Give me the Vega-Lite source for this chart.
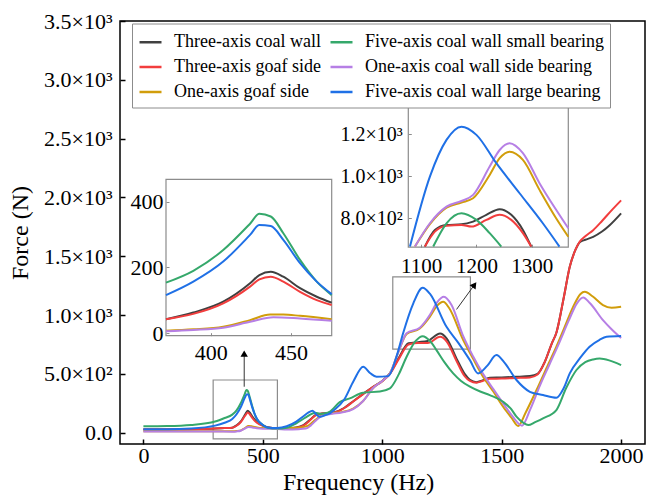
{
  "$schema": "https://vega.github.io/schema/vega-lite/v6.json",
  "width": 525,
  "height": 423,
  "autosize": {"type": "none"},
  "padding": {"left": 120, "top": 21, "right": 1, "bottom": 53},
  "config": {
    "view": {"stroke": "black", "strokeWidth": 1.5},
    "font": "Liberation Serif",
    "axis": {"grid": false, "labelFont": "Liberation Serif", "titleFont": "Liberation Serif", "labelColor": "black", "titleColor": "black", "titleFontWeight": "normal", "labelFontSize": 22, "tickColor": "black", "labelOverlap": false, "labelFlush": false}
  },
  "datasets": {
    "boxes": [{"x1": 292, "x2": 561, "y1": -53, "y2": 448}, {"x1": 1044, "x2": 1369, "y1": 711, "y2": 1325}],
    "arrows": [{"x1": 422, "x2": 422, "y1": 391, "y2": 672}, {"x1": 1311, "x2": 1386, "y1": 1048, "y2": 1258}],
    "frame1": [{"x1": 372.2, "x2": 475.3, "y1": -7.3, "y2": 468}],
    "frame2": [{"x1": 1077, "x2": 1366, "y1": 662, "y2": 1344}],
    "main": [
      {"s": "Three-axis coal wall", "f": 0, "F": 27}, {"s": "Three-axis coal wall", "f": 100, "F": 27}, {"s": "Three-axis coal wall", "f": 200, "F": 30}, {"s": "Three-axis coal wall", "f": 300, "F": 36}, {"s": "Three-axis coal wall", "f": 340, "F": 40}, {"s": "Three-axis coal wall", "f": 372, "F": 43}, {"s": "Three-axis coal wall", "f": 390, "F": 63}, {"s": "Three-axis coal wall", "f": 408, "F": 96}, {"s": "Three-axis coal wall", "f": 425, "F": 152}, {"s": "Three-axis coal wall", "f": 437, "F": 187}, {"s": "Three-axis coal wall", "f": 445, "F": 172}, {"s": "Three-axis coal wall", "f": 456, "F": 137}, {"s": "Three-axis coal wall", "f": 466, "F": 111}, {"s": "Three-axis coal wall", "f": 475, "F": 93}, {"s": "Three-axis coal wall", "f": 500, "F": 62}, {"s": "Three-axis coal wall", "f": 520, "F": 46}, {"s": "Three-axis coal wall", "f": 560, "F": 38}, {"s": "Three-axis coal wall", "f": 600, "F": 38}, {"s": "Three-axis coal wall", "f": 640, "F": 45}, {"s": "Three-axis coal wall", "f": 670, "F": 65}, {"s": "Three-axis coal wall", "f": 700, "F": 115}, {"s": "Three-axis coal wall", "f": 720, "F": 150}, {"s": "Three-axis coal wall", "f": 740, "F": 162}, {"s": "Three-axis coal wall", "f": 770, "F": 168}, {"s": "Three-axis coal wall", "f": 800, "F": 175}, {"s": "Three-axis coal wall", "f": 840, "F": 210}, {"s": "Three-axis coal wall", "f": 880, "F": 270}, {"s": "Three-axis coal wall", "f": 920, "F": 330}, {"s": "Three-axis coal wall", "f": 962, "F": 391}, {"s": "Three-axis coal wall", "f": 1000, "F": 440}, {"s": "Three-axis coal wall", "f": 1032, "F": 504}, {"s": "Three-axis coal wall", "f": 1070, "F": 640}, {"s": "Three-axis coal wall", "f": 1110, "F": 760}, {"s": "Three-axis coal wall", "f": 1150, "F": 770}, {"s": "Three-axis coal wall", "f": 1190, "F": 780}, {"s": "Three-axis coal wall", "f": 1242, "F": 843}, {"s": "Three-axis coal wall", "f": 1270, "F": 800}, {"s": "Three-axis coal wall", "f": 1311, "F": 630}, {"s": "Three-axis coal wall", "f": 1345, "F": 500}, {"s": "Three-axis coal wall", "f": 1367, "F": 450}, {"s": "Three-axis coal wall", "f": 1394, "F": 430}, {"s": "Three-axis coal wall", "f": 1420, "F": 445}, {"s": "Three-axis coal wall", "f": 1450, "F": 468}, {"s": "Three-axis coal wall", "f": 1500, "F": 470}, {"s": "Three-axis coal wall", "f": 1560, "F": 475}, {"s": "Three-axis coal wall", "f": 1618, "F": 482}, {"s": "Three-axis coal wall", "f": 1650, "F": 500}, {"s": "Three-axis coal wall", "f": 1680, "F": 600}, {"s": "Three-axis coal wall", "f": 1710, "F": 760}, {"s": "Three-axis coal wall", "f": 1729, "F": 850}, {"s": "Three-axis coal wall", "f": 1760, "F": 1150}, {"s": "Three-axis coal wall", "f": 1785, "F": 1410}, {"s": "Three-axis coal wall", "f": 1810, "F": 1560}, {"s": "Three-axis coal wall", "f": 1827, "F": 1620}, {"s": "Three-axis coal wall", "f": 1850, "F": 1640}, {"s": "Three-axis coal wall", "f": 1883, "F": 1665}, {"s": "Three-axis coal wall", "f": 1920, "F": 1710}, {"s": "Three-axis coal wall", "f": 1952, "F": 1764}, {"s": "Three-axis coal wall", "f": 2000, "F": 1865},

      {"s": "Three-axis goaf side", "f": 0, "F": 29}, {"s": "Three-axis goaf side", "f": 100, "F": 29}, {"s": "Three-axis goaf side", "f": 200, "F": 30}, {"s": "Three-axis goaf side", "f": 300, "F": 35}, {"s": "Three-axis goaf side", "f": 340, "F": 39}, {"s": "Three-axis goaf side", "f": 372, "F": 43}, {"s": "Three-axis goaf side", "f": 390, "F": 59}, {"s": "Three-axis goaf side", "f": 408, "F": 91}, {"s": "Three-axis goaf side", "f": 425, "F": 142}, {"s": "Three-axis goaf side", "f": 437, "F": 172}, {"s": "Three-axis goaf side", "f": 445, "F": 157}, {"s": "Three-axis goaf side", "f": 456, "F": 126}, {"s": "Three-axis goaf side", "f": 466, "F": 101}, {"s": "Three-axis goaf side", "f": 475, "F": 86}, {"s": "Three-axis goaf side", "f": 500, "F": 58}, {"s": "Three-axis goaf side", "f": 520, "F": 44}, {"s": "Three-axis goaf side", "f": 560, "F": 37}, {"s": "Three-axis goaf side", "f": 600, "F": 37}, {"s": "Three-axis goaf side", "f": 640, "F": 42}, {"s": "Three-axis goaf side", "f": 670, "F": 60}, {"s": "Three-axis goaf side", "f": 700, "F": 110}, {"s": "Three-axis goaf side", "f": 720, "F": 148}, {"s": "Three-axis goaf side", "f": 740, "F": 160}, {"s": "Three-axis goaf side", "f": 770, "F": 166}, {"s": "Three-axis goaf side", "f": 800, "F": 172}, {"s": "Three-axis goaf side", "f": 840, "F": 208}, {"s": "Three-axis goaf side", "f": 880, "F": 268}, {"s": "Three-axis goaf side", "f": 920, "F": 328}, {"s": "Three-axis goaf side", "f": 962, "F": 390}, {"s": "Three-axis goaf side", "f": 1000, "F": 438}, {"s": "Three-axis goaf side", "f": 1032, "F": 500}, {"s": "Three-axis goaf side", "f": 1070, "F": 630}, {"s": "Three-axis goaf side", "f": 1110, "F": 750}, {"s": "Three-axis goaf side", "f": 1150, "F": 762}, {"s": "Three-axis goaf side", "f": 1190, "F": 762}, {"s": "Three-axis goaf side", "f": 1242, "F": 815}, {"s": "Three-axis goaf side", "f": 1270, "F": 775}, {"s": "Three-axis goaf side", "f": 1311, "F": 610}, {"s": "Three-axis goaf side", "f": 1345, "F": 480}, {"s": "Three-axis goaf side", "f": 1367, "F": 440}, {"s": "Three-axis goaf side", "f": 1394, "F": 425}, {"s": "Three-axis goaf side", "f": 1420, "F": 440}, {"s": "Three-axis goaf side", "f": 1450, "F": 458}, {"s": "Three-axis goaf side", "f": 1500, "F": 460}, {"s": "Three-axis goaf side", "f": 1560, "F": 465}, {"s": "Three-axis goaf side", "f": 1618, "F": 470}, {"s": "Three-axis goaf side", "f": 1650, "F": 495}, {"s": "Three-axis goaf side", "f": 1680, "F": 600}, {"s": "Three-axis goaf side", "f": 1710, "F": 760}, {"s": "Three-axis goaf side", "f": 1729, "F": 850}, {"s": "Three-axis goaf side", "f": 1760, "F": 1150}, {"s": "Three-axis goaf side", "f": 1785, "F": 1410}, {"s": "Three-axis goaf side", "f": 1810, "F": 1560}, {"s": "Three-axis goaf side", "f": 1827, "F": 1625}, {"s": "Three-axis goaf side", "f": 1850, "F": 1670}, {"s": "Three-axis goaf side", "f": 1883, "F": 1722}, {"s": "Three-axis goaf side", "f": 1920, "F": 1800}, {"s": "Three-axis goaf side", "f": 1960, "F": 1890}, {"s": "Three-axis goaf side", "f": 2000, "F": 1975},

      {"s": "One-axis goaf side", "f": 0, "F": 12}, {"s": "One-axis goaf side", "f": 100, "F": 12}, {"s": "One-axis goaf side", "f": 200, "F": 12}, {"s": "One-axis goaf side", "f": 300, "F": 12}, {"s": "One-axis goaf side", "f": 372, "F": 12}, {"s": "One-axis goaf side", "f": 390, "F": 14}, {"s": "One-axis goaf side", "f": 408, "F": 20}, {"s": "One-axis goaf side", "f": 425, "F": 40}, {"s": "One-axis goaf side", "f": 440, "F": 57}, {"s": "One-axis goaf side", "f": 456, "F": 53}, {"s": "One-axis goaf side", "f": 475, "F": 45}, {"s": "One-axis goaf side", "f": 500, "F": 40}, {"s": "One-axis goaf side", "f": 560, "F": 38}, {"s": "One-axis goaf side", "f": 620, "F": 40}, {"s": "One-axis goaf side", "f": 660, "F": 45}, {"s": "One-axis goaf side", "f": 690, "F": 60}, {"s": "One-axis goaf side", "f": 720, "F": 110}, {"s": "One-axis goaf side", "f": 750, "F": 150}, {"s": "One-axis goaf side", "f": 790, "F": 165}, {"s": "One-axis goaf side", "f": 830, "F": 175}, {"s": "One-axis goaf side", "f": 878, "F": 204}, {"s": "One-axis goaf side", "f": 920, "F": 270}, {"s": "One-axis goaf side", "f": 962, "F": 380}, {"s": "One-axis goaf side", "f": 1000, "F": 440}, {"s": "One-axis goaf side", "f": 1032, "F": 504}, {"s": "One-axis goaf side", "f": 1070, "F": 700}, {"s": "One-axis goaf side", "f": 1102, "F": 840}, {"s": "One-axis goaf side", "f": 1157, "F": 886}, {"s": "One-axis goaf side", "f": 1199, "F": 985}, {"s": "One-axis goaf side", "f": 1230, "F": 1080}, {"s": "One-axis goaf side", "f": 1255, "F": 1113}, {"s": "One-axis goaf side", "f": 1280, "F": 1060}, {"s": "One-axis goaf side", "f": 1339, "F": 787}, {"s": "One-axis goaf side", "f": 1380, "F": 630}, {"s": "One-axis goaf side", "f": 1422, "F": 476}, {"s": "One-axis goaf side", "f": 1465, "F": 350}, {"s": "One-axis goaf side", "f": 1506, "F": 221}, {"s": "One-axis goaf side", "f": 1540, "F": 130}, {"s": "One-axis goaf side", "f": 1569, "F": 57}, {"s": "One-axis goaf side", "f": 1600, "F": 170}, {"s": "One-axis goaf side", "f": 1646, "F": 363}, {"s": "One-axis goaf side", "f": 1690, "F": 560}, {"s": "One-axis goaf side", "f": 1729, "F": 731}, {"s": "One-axis goaf side", "f": 1760, "F": 880}, {"s": "One-axis goaf side", "f": 1799, "F": 1070}, {"s": "One-axis goaf side", "f": 1830, "F": 1180}, {"s": "One-axis goaf side", "f": 1848, "F": 1198}, {"s": "One-axis goaf side", "f": 1880, "F": 1160}, {"s": "One-axis goaf side", "f": 1924, "F": 1085}, {"s": "One-axis goaf side", "f": 1960, "F": 1062}, {"s": "One-axis goaf side", "f": 2000, "F": 1070},

      {"s": "One-axis coal wall side bearing", "f": 0, "F": 10}, {"s": "One-axis coal wall side bearing", "f": 100, "F": 10}, {"s": "One-axis coal wall side bearing", "f": 200, "F": 10}, {"s": "One-axis coal wall side bearing", "f": 300, "F": 10}, {"s": "One-axis coal wall side bearing", "f": 372, "F": 9}, {"s": "One-axis coal wall side bearing", "f": 390, "F": 11}, {"s": "One-axis coal wall side bearing", "f": 408, "F": 17}, {"s": "One-axis coal wall side bearing", "f": 425, "F": 35}, {"s": "One-axis coal wall side bearing", "f": 440, "F": 49}, {"s": "One-axis coal wall side bearing", "f": 456, "F": 45}, {"s": "One-axis coal wall side bearing", "f": 475, "F": 38}, {"s": "One-axis coal wall side bearing", "f": 500, "F": 34}, {"s": "One-axis coal wall side bearing", "f": 560, "F": 32}, {"s": "One-axis coal wall side bearing", "f": 600, "F": 28}, {"s": "One-axis coal wall side bearing", "f": 650, "F": 30}, {"s": "One-axis coal wall side bearing", "f": 680, "F": 35}, {"s": "One-axis coal wall side bearing", "f": 700, "F": 60}, {"s": "One-axis coal wall side bearing", "f": 720, "F": 100}, {"s": "One-axis coal wall side bearing", "f": 750, "F": 145}, {"s": "One-axis coal wall side bearing", "f": 790, "F": 160}, {"s": "One-axis coal wall side bearing", "f": 830, "F": 172}, {"s": "One-axis coal wall side bearing", "f": 878, "F": 200}, {"s": "One-axis coal wall side bearing", "f": 920, "F": 270}, {"s": "One-axis coal wall side bearing", "f": 962, "F": 380}, {"s": "One-axis coal wall side bearing", "f": 1000, "F": 440}, {"s": "One-axis coal wall side bearing", "f": 1032, "F": 504}, {"s": "One-axis coal wall side bearing", "f": 1070, "F": 700}, {"s": "One-axis coal wall side bearing", "f": 1102, "F": 845}, {"s": "One-axis coal wall side bearing", "f": 1157, "F": 892}, {"s": "One-axis coal wall side bearing", "f": 1199, "F": 1000}, {"s": "One-axis coal wall side bearing", "f": 1230, "F": 1110}, {"s": "One-axis coal wall side bearing", "f": 1258, "F": 1155}, {"s": "One-axis coal wall side bearing", "f": 1290, "F": 1085}, {"s": "One-axis coal wall side bearing", "f": 1339, "F": 820}, {"s": "One-axis coal wall side bearing", "f": 1380, "F": 650}, {"s": "One-axis coal wall side bearing", "f": 1422, "F": 500}, {"s": "One-axis coal wall side bearing", "f": 1465, "F": 370}, {"s": "One-axis coal wall side bearing", "f": 1506, "F": 250}, {"s": "One-axis coal wall side bearing", "f": 1545, "F": 140}, {"s": "One-axis coal wall side bearing", "f": 1585, "F": 60}, {"s": "One-axis coal wall side bearing", "f": 1620, "F": 200}, {"s": "One-axis coal wall side bearing", "f": 1660, "F": 400}, {"s": "One-axis coal wall side bearing", "f": 1700, "F": 580}, {"s": "One-axis coal wall side bearing", "f": 1740, "F": 760}, {"s": "One-axis coal wall side bearing", "f": 1780, "F": 950}, {"s": "One-axis coal wall side bearing", "f": 1815, "F": 1100}, {"s": "One-axis coal wall side bearing", "f": 1841, "F": 1150}, {"s": "One-axis coal wall side bearing", "f": 1870, "F": 1100}, {"s": "One-axis coal wall side bearing", "f": 1924, "F": 957}, {"s": "One-axis coal wall side bearing", "f": 1960, "F": 880}, {"s": "One-axis coal wall side bearing", "f": 2000, "F": 805},

      {"s": "Five-axis coal wall small bearing", "f": 0, "F": 55}, {"s": "Five-axis coal wall small bearing", "f": 100, "F": 57}, {"s": "Five-axis coal wall small bearing", "f": 200, "F": 66}, {"s": "Five-axis coal wall small bearing", "f": 300, "F": 95}, {"s": "Five-axis coal wall small bearing", "f": 340, "F": 125}, {"s": "Five-axis coal wall small bearing", "f": 372, "F": 154}, {"s": "Five-axis coal wall small bearing", "f": 390, "F": 190}, {"s": "Five-axis coal wall small bearing", "f": 408, "F": 253}, {"s": "Five-axis coal wall small bearing", "f": 425, "F": 333}, {"s": "Five-axis coal wall small bearing", "f": 431, "F": 363}, {"s": "Five-axis coal wall small bearing", "f": 437, "F": 355}, {"s": "Five-axis coal wall small bearing", "f": 445, "F": 304}, {"s": "Five-axis coal wall small bearing", "f": 456, "F": 223}, {"s": "Five-axis coal wall small bearing", "f": 466, "F": 157}, {"s": "Five-axis coal wall small bearing", "f": 475, "F": 116}, {"s": "Five-axis coal wall small bearing", "f": 500, "F": 65}, {"s": "Five-axis coal wall small bearing", "f": 520, "F": 42}, {"s": "Five-axis coal wall small bearing", "f": 560, "F": 35}, {"s": "Five-axis coal wall small bearing", "f": 600, "F": 42}, {"s": "Five-axis coal wall small bearing", "f": 640, "F": 80}, {"s": "Five-axis coal wall small bearing", "f": 680, "F": 130}, {"s": "Five-axis coal wall small bearing", "f": 720, "F": 170}, {"s": "Five-axis coal wall small bearing", "f": 740, "F": 160}, {"s": "Five-axis coal wall small bearing", "f": 760, "F": 165}, {"s": "Five-axis coal wall small bearing", "f": 781, "F": 180}, {"s": "Five-axis coal wall small bearing", "f": 822, "F": 260}, {"s": "Five-axis coal wall small bearing", "f": 864, "F": 292}, {"s": "Five-axis coal wall small bearing", "f": 920, "F": 340}, {"s": "Five-axis coal wall small bearing", "f": 990, "F": 350}, {"s": "Five-axis coal wall small bearing", "f": 1032, "F": 377}, {"s": "Five-axis coal wall small bearing", "f": 1070, "F": 500}, {"s": "Five-axis coal wall small bearing", "f": 1102, "F": 646}, {"s": "Five-axis coal wall small bearing", "f": 1140, "F": 780}, {"s": "Five-axis coal wall small bearing", "f": 1169, "F": 821}, {"s": "Five-axis coal wall small bearing", "f": 1200, "F": 780}, {"s": "Five-axis coal wall small bearing", "f": 1227, "F": 702}, {"s": "Five-axis coal wall small bearing", "f": 1260, "F": 600}, {"s": "Five-axis coal wall small bearing", "f": 1297, "F": 504}, {"s": "Five-axis coal wall small bearing", "f": 1330, "F": 440}, {"s": "Five-axis coal wall small bearing", "f": 1367, "F": 391}, {"s": "Five-axis coal wall small bearing", "f": 1410, "F": 350}, {"s": "Five-axis coal wall small bearing", "f": 1450, "F": 320}, {"s": "Five-axis coal wall small bearing", "f": 1506, "F": 263}, {"s": "Five-axis coal wall small bearing", "f": 1540, "F": 200}, {"s": "Five-axis coal wall small bearing", "f": 1562, "F": 136}, {"s": "Five-axis coal wall small bearing", "f": 1590, "F": 85}, {"s": "Five-axis coal wall small bearing", "f": 1611, "F": 65}, {"s": "Five-axis coal wall small bearing", "f": 1640, "F": 90}, {"s": "Five-axis coal wall small bearing", "f": 1673, "F": 122}, {"s": "Five-axis coal wall small bearing", "f": 1729, "F": 193}, {"s": "Five-axis coal wall small bearing", "f": 1770, "F": 380}, {"s": "Five-axis coal wall small bearing", "f": 1813, "F": 533}, {"s": "Five-axis coal wall small bearing", "f": 1850, "F": 600}, {"s": "Five-axis coal wall small bearing", "f": 1883, "F": 623}, {"s": "Five-axis coal wall small bearing", "f": 1910, "F": 630}, {"s": "Five-axis coal wall small bearing", "f": 1950, "F": 615}, {"s": "Five-axis coal wall small bearing", "f": 2000, "F": 575},

      {"s": "Five-axis coal wall large bearing", "f": 0, "F": 30}, {"s": "Five-axis coal wall large bearing", "f": 100, "F": 30}, {"s": "Five-axis coal wall large bearing", "f": 200, "F": 36}, {"s": "Five-axis coal wall large bearing", "f": 300, "F": 60}, {"s": "Five-axis coal wall large bearing", "f": 340, "F": 85}, {"s": "Five-axis coal wall large bearing", "f": 372, "F": 116}, {"s": "Five-axis coal wall large bearing", "f": 390, "F": 157}, {"s": "Five-axis coal wall large bearing", "f": 408, "F": 218}, {"s": "Five-axis coal wall large bearing", "f": 425, "F": 299}, {"s": "Five-axis coal wall large bearing", "f": 433, "F": 328}, {"s": "Five-axis coal wall large bearing", "f": 440, "F": 322}, {"s": "Five-axis coal wall large bearing", "f": 445, "F": 290}, {"s": "Five-axis coal wall large bearing", "f": 456, "F": 213}, {"s": "Five-axis coal wall large bearing", "f": 466, "F": 157}, {"s": "Five-axis coal wall large bearing", "f": 475, "F": 119}, {"s": "Five-axis coal wall large bearing", "f": 500, "F": 65}, {"s": "Five-axis coal wall large bearing", "f": 520, "F": 45}, {"s": "Five-axis coal wall large bearing", "f": 560, "F": 40}, {"s": "Five-axis coal wall large bearing", "f": 600, "F": 55}, {"s": "Five-axis coal wall large bearing", "f": 640, "F": 95}, {"s": "Five-axis coal wall large bearing", "f": 670, "F": 140}, {"s": "Five-axis coal wall large bearing", "f": 690, "F": 170}, {"s": "Five-axis coal wall large bearing", "f": 708, "F": 187}, {"s": "Five-axis coal wall large bearing", "f": 725, "F": 152}, {"s": "Five-axis coal wall large bearing", "f": 740, "F": 135}, {"s": "Five-axis coal wall large bearing", "f": 760, "F": 148}, {"s": "Five-axis coal wall large bearing", "f": 781, "F": 165}, {"s": "Five-axis coal wall large bearing", "f": 800, "F": 195}, {"s": "Five-axis coal wall large bearing", "f": 840, "F": 280}, {"s": "Five-axis coal wall large bearing", "f": 880, "F": 440}, {"s": "Five-axis coal wall large bearing", "f": 920, "F": 561}, {"s": "Five-axis coal wall large bearing", "f": 950, "F": 505}, {"s": "Five-axis coal wall large bearing", "f": 976, "F": 476}, {"s": "Five-axis coal wall large bearing", "f": 1025, "F": 481}, {"s": "Five-axis coal wall large bearing", "f": 1060, "F": 650}, {"s": "Five-axis coal wall large bearing", "f": 1087, "F": 844}, {"s": "Five-axis coal wall large bearing", "f": 1130, "F": 1100}, {"s": "Five-axis coal wall large bearing", "f": 1169, "F": 1232}, {"s": "Five-axis coal wall large bearing", "f": 1200, "F": 1180}, {"s": "Five-axis coal wall large bearing", "f": 1269, "F": 900}, {"s": "Five-axis coal wall large bearing", "f": 1320, "F": 760}, {"s": "Five-axis coal wall large bearing", "f": 1367, "F": 617}, {"s": "Five-axis coal wall large bearing", "f": 1401, "F": 504}, {"s": "Five-axis coal wall large bearing", "f": 1440, "F": 570}, {"s": "Five-axis coal wall large bearing", "f": 1478, "F": 660}, {"s": "Five-axis coal wall large bearing", "f": 1510, "F": 600}, {"s": "Five-axis coal wall large bearing", "f": 1562, "F": 448}, {"s": "Five-axis coal wall large bearing", "f": 1618, "F": 348}, {"s": "Five-axis coal wall large bearing", "f": 1673, "F": 320}, {"s": "Five-axis coal wall large bearing", "f": 1729, "F": 297}, {"s": "Five-axis coal wall large bearing", "f": 1760, "F": 380}, {"s": "Five-axis coal wall large bearing", "f": 1785, "F": 504}, {"s": "Five-axis coal wall large bearing", "f": 1830, "F": 640}, {"s": "Five-axis coal wall large bearing", "f": 1868, "F": 731}, {"s": "Five-axis coal wall large bearing", "f": 1910, "F": 790}, {"s": "Five-axis coal wall large bearing", "f": 1939, "F": 815}, {"s": "Five-axis coal wall large bearing", "f": 2000, "F": 822}
    ],
    "inset1": [
      {"s": "Three-axis coal wall", "f": 372.2, "F": 43}, {"s": "Three-axis coal wall", "f": 389.2, "F": 63}, {"s": "Three-axis coal wall", "f": 407.8, "F": 96}, {"s": "Three-axis coal wall", "f": 424.5, "F": 152}, {"s": "Three-axis coal wall", "f": 430.3, "F": 177}, {"s": "Three-axis coal wall", "f": 437.4, "F": 187}, {"s": "Three-axis coal wall", "f": 445.2, "F": 172}, {"s": "Three-axis coal wall", "f": 455.6, "F": 137}, {"s": "Three-axis coal wall", "f": 466, "F": 111}, {"s": "Three-axis coal wall", "f": 475.3, "F": 93},
      {"s": "Three-axis goaf side", "f": 372.2, "F": 43}, {"s": "Three-axis goaf side", "f": 389.2, "F": 59}, {"s": "Three-axis goaf side", "f": 407.8, "F": 91}, {"s": "Three-axis goaf side", "f": 424.5, "F": 142}, {"s": "Three-axis goaf side", "f": 430.3, "F": 164}, {"s": "Three-axis goaf side", "f": 437.4, "F": 172}, {"s": "Three-axis goaf side", "f": 445.2, "F": 157}, {"s": "Three-axis goaf side", "f": 455.6, "F": 126}, {"s": "Three-axis goaf side", "f": 466, "F": 101}, {"s": "Three-axis goaf side", "f": 475.3, "F": 86},
      {"s": "One-axis goaf side", "f": 372.2, "F": 8}, {"s": "One-axis goaf side", "f": 389.2, "F": 12}, {"s": "One-axis goaf side", "f": 407.8, "F": 20}, {"s": "One-axis goaf side", "f": 424.5, "F": 40}, {"s": "One-axis goaf side", "f": 437, "F": 57}, {"s": "One-axis goaf side", "f": 445.2, "F": 57}, {"s": "One-axis goaf side", "f": 455.6, "F": 53}, {"s": "One-axis goaf side", "f": 475.3, "F": 43},
      {"s": "One-axis coal wall side bearing", "f": 372.2, "F": 6}, {"s": "One-axis coal wall side bearing", "f": 389.2, "F": 10}, {"s": "One-axis coal wall side bearing", "f": 407.8, "F": 17}, {"s": "One-axis coal wall side bearing", "f": 424.5, "F": 35}, {"s": "One-axis coal wall side bearing", "f": 439, "F": 49}, {"s": "One-axis coal wall side bearing", "f": 455.6, "F": 45}, {"s": "One-axis coal wall side bearing", "f": 475.3, "F": 38},
      {"s": "Five-axis coal wall small bearing", "f": 372.2, "F": 154}, {"s": "Five-axis coal wall small bearing", "f": 389.2, "F": 190}, {"s": "Five-axis coal wall small bearing", "f": 407.8, "F": 253}, {"s": "Five-axis coal wall small bearing", "f": 424.5, "F": 333}, {"s": "Five-axis coal wall small bearing", "f": 430.3, "F": 363}, {"s": "Five-axis coal wall small bearing", "f": 437.4, "F": 355}, {"s": "Five-axis coal wall small bearing", "f": 445.2, "F": 304}, {"s": "Five-axis coal wall small bearing", "f": 455.6, "F": 223}, {"s": "Five-axis coal wall small bearing", "f": 466, "F": 157}, {"s": "Five-axis coal wall small bearing", "f": 475.3, "F": 116},
      {"s": "Five-axis coal wall large bearing", "f": 372.2, "F": 116}, {"s": "Five-axis coal wall large bearing", "f": 389.2, "F": 157}, {"s": "Five-axis coal wall large bearing", "f": 407.8, "F": 218}, {"s": "Five-axis coal wall large bearing", "f": 424.5, "F": 299}, {"s": "Five-axis coal wall large bearing", "f": 430.3, "F": 329}, {"s": "Five-axis coal wall large bearing", "f": 437.4, "F": 326}, {"s": "Five-axis coal wall large bearing", "f": 445.2, "F": 284}, {"s": "Five-axis coal wall large bearing", "f": 455.6, "F": 213}, {"s": "Five-axis coal wall large bearing", "f": 466, "F": 157}, {"s": "Five-axis coal wall large bearing", "f": 475.3, "F": 119}
    ],
    "inset2": [
      {"s": "Three-axis coal wall", "f": 1107, "F": 665}, {"s": "Three-axis coal wall", "f": 1125, "F": 744}, {"s": "Three-axis coal wall", "f": 1146, "F": 768}, {"s": "Three-axis coal wall", "f": 1173, "F": 771}, {"s": "Three-axis coal wall", "f": 1194, "F": 784}, {"s": "Three-axis coal wall", "f": 1218, "F": 816}, {"s": "Three-axis coal wall", "f": 1242, "F": 843}, {"s": "Three-axis coal wall", "f": 1263, "F": 816}, {"s": "Three-axis coal wall", "f": 1284, "F": 744}, {"s": "Three-axis coal wall", "f": 1299, "F": 665},
      {"s": "Three-axis goaf side", "f": 1107, "F": 665}, {"s": "Three-axis goaf side", "f": 1125, "F": 736}, {"s": "Three-axis goaf side", "f": 1146, "F": 764}, {"s": "Three-axis goaf side", "f": 1173, "F": 768}, {"s": "Three-axis goaf side", "f": 1191, "F": 760}, {"s": "Three-axis goaf side", "f": 1218, "F": 792}, {"s": "Three-axis goaf side", "f": 1242, "F": 816}, {"s": "Three-axis goaf side", "f": 1263, "F": 792}, {"s": "Three-axis goaf side", "f": 1284, "F": 729}, {"s": "Three-axis goaf side", "f": 1299, "F": 665},
      {"s": "One-axis goaf side", "f": 1089, "F": 665}, {"s": "One-axis goaf side", "f": 1116, "F": 772}, {"s": "One-axis goaf side", "f": 1146, "F": 850}, {"s": "One-axis goaf side", "f": 1173, "F": 875}, {"s": "One-axis goaf side", "f": 1194, "F": 895}, {"s": "One-axis goaf side", "f": 1224, "F": 1006}, {"s": "One-axis goaf side", "f": 1242, "F": 1086}, {"s": "One-axis goaf side", "f": 1260, "F": 1117}, {"s": "One-axis goaf side", "f": 1284, "F": 1078}, {"s": "One-axis goaf side", "f": 1314, "F": 935}, {"s": "One-axis goaf side", "f": 1344, "F": 800}, {"s": "One-axis goaf side", "f": 1366, "F": 712},
      {"s": "One-axis coal wall side bearing", "f": 1089, "F": 665}, {"s": "One-axis coal wall side bearing", "f": 1116, "F": 776}, {"s": "One-axis coal wall side bearing", "f": 1146, "F": 855}, {"s": "One-axis coal wall side bearing", "f": 1173, "F": 882}, {"s": "One-axis coal wall side bearing", "f": 1194, "F": 911}, {"s": "One-axis coal wall side bearing", "f": 1224, "F": 1046}, {"s": "One-axis coal wall side bearing", "f": 1242, "F": 1125}, {"s": "One-axis coal wall side bearing", "f": 1260, "F": 1157}, {"s": "One-axis coal wall side bearing", "f": 1284, "F": 1110}, {"s": "One-axis coal wall side bearing", "f": 1314, "F": 967}, {"s": "One-axis coal wall side bearing", "f": 1344, "F": 840}, {"s": "One-axis coal wall side bearing", "f": 1366, "F": 752},
      {"s": "Five-axis coal wall small bearing", "f": 1122, "F": 665}, {"s": "Five-axis coal wall small bearing", "f": 1146, "F": 776}, {"s": "Five-axis coal wall small bearing", "f": 1173, "F": 824}, {"s": "Five-axis coal wall small bearing", "f": 1200, "F": 792}, {"s": "Five-axis coal wall small bearing", "f": 1224, "F": 729}, {"s": "Five-axis coal wall small bearing", "f": 1245, "F": 665},
      {"s": "Five-axis coal wall large bearing", "f": 1080, "F": 665}, {"s": "Five-axis coal wall large bearing", "f": 1116, "F": 998}, {"s": "Five-axis coal wall large bearing", "f": 1146, "F": 1173}, {"s": "Five-axis coal wall large bearing", "f": 1173, "F": 1236}, {"s": "Five-axis coal wall large bearing", "f": 1200, "F": 1197}, {"s": "Five-axis coal wall large bearing", "f": 1236, "F": 1062}, {"s": "Five-axis coal wall large bearing", "f": 1278, "F": 919}, {"s": "Five-axis coal wall large bearing", "f": 1320, "F": 776}, {"s": "Five-axis coal wall large bearing", "f": 1350, "F": 665}
    ]
  },
  "layer": [
    {
      "layer": [
        {
          "data": {"name": "boxes"},
          "mark": {"type": "rect", "fill": null, "fillOpacity": 0, "stroke": "#8c8c8c", "strokeWidth": 1.2},
          "encoding": {
            "x": {"field": "x1", "type": "quantitative"},
            "x2": {"field": "x2"},
            "y": {"field": "y1", "type": "quantitative"},
            "y2": {"field": "y2"}
          }
        },
        {
          "data": {"name": "arrows"},
          "mark": {"type": "rule", "color": "#333333", "strokeWidth": 1},
          "encoding": {
            "x": {"field": "x1", "type": "quantitative"},
            "x2": {"field": "x2"},
            "y": {"field": "y1", "type": "quantitative"},
            "y2": {"field": "y2"}
          }
        },
        {
          "data": {"values": [{"hx": 422, "hy": 672}]},
          "mark": {"type": "point", "shape": "triangle-up", "filled": true, "color": "black", "opacity": 1, "size": 55},
          "encoding": {
            "x": {"field": "hx", "type": "quantitative"},
            "y": {"field": "hy", "type": "quantitative"}
          }
        },
        {
          "data": {"values": [{"hx": 1386, "hy": 1258}]},
          "mark": {"type": "point", "shape": "triangle-up", "filled": true, "color": "black", "opacity": 1, "size": 55, "angle": 36},
          "encoding": {
            "x": {"field": "hx", "type": "quantitative"},
            "y": {"field": "hy", "type": "quantitative"}
          }
        },
        {
          "data": {"name": "main"},
          "mark": {"type": "line", "interpolate": "monotone", "strokeWidth": 2},
          "encoding": {
            "x": {"field": "f", "type": "quantitative",
              "scale": {"domain": [-98, 2100], "nice": false, "zero": false},
              "axis": {"title": "Frequency (Hz)", "orient": "bottom", "values": [0, 500, 1000, 1500, 2000], "format": "d", "domain": false, "tickSize": -5, "tickWidth": 1.5, "labelPadding": 6, "labelFontSize": 22, "titleFontSize": 24, "titleX": 238, "titleY": 45, "titleBaseline": "alphabetic"}},
            "y": {"field": "F", "type": "quantitative",
              "scale": {"domain": [-96, 3500], "nice": false, "zero": false},
              "axis": {"title": "Force (N)", "orient": "left", "values": [0, 500, 1000, 1500, 2000, 2500, 3000, 3500], "domain": false, "tickSize": -5, "tickWidth": 1.5, "labelPadding": 13, "labelFontSize": 22, "titleFontSize": 24, "titleX": -93, "titleY": 211.5, "titleAngle": -90, "titleAlign": "center", "titleBaseline": "alphabetic",
                "labelExpr": "datum.value == 0 ? '0.0' : (datum.value >= 1000 ? format(datum.value/1000, '.1f') + '×10³' : format(datum.value/100, '.1f') + '×10²')"}},
            "color": {"field": "s", "type": "nominal",
              "scale": {"domain": ["Three-axis coal wall", "Three-axis goaf side", "One-axis goaf side", "Five-axis coal wall small bearing", "One-axis coal wall side bearing", "Five-axis coal wall large bearing"],
                        "range": ["#404040", "#f23d3d", "#d19d0b", "#35a86b", "#b67fe5", "#1f70e6"]},
              "legend": {"title": null, "orient": "none", "legendX": 12, "legendY": 2.5, "columns": 2, "gridAlign": "each", "symbolType": "stroke", "symbolSize": 484, "symbolStrokeWidth": 2.5, "labelFont": "Liberation Serif", "labelFontSize": 18, "labelColor": "black", "labelLimit": 400, "strokeColor": "#8c8c8c", "fillColor": "white", "padding": 6, "rowPadding": 3, "columnPadding": 4, "labelOffset": 11}}
          }
        }
      ]
    },
    {
      "layer": [
        {
          "data": {"name": "frame1"},
          "mark": {"type": "rect", "fill": null, "fillOpacity": 0, "stroke": "#8c8c8c", "strokeWidth": 1.2},
          "encoding": {
            "x": {"field": "x1", "type": "quantitative"},
            "x2": {"field": "x2"},
            "y": {"field": "y1", "type": "quantitative"},
            "y2": {"field": "y2"}
          }
        },
        {
          "data": {"name": "inset1"},
          "mark": {"type": "line", "interpolate": "monotone", "strokeWidth": 2},
          "encoding": {
            "x": {"field": "f", "type": "quantitative",
              "scale": {"domain": [372.2, 475.3], "range": [46, 211.7], "nice": false, "zero": false},
              "axis": {"title": null, "orient": "bottom", "offset": -108.3, "values": [400, 450], "format": "d", "domain": false, "tickSize": -3, "tickColor": "#8c8c8c", "labelPadding": 10, "labelFontSize": 22}},
            "y": {"field": "F", "type": "quantitative",
              "scale": {"domain": [-7.3, 468], "range": [314.7, 158.3], "nice": false, "zero": false},
              "axis": {"title": null, "orient": "left", "offset": -46, "values": [0, 200, 400], "format": "d", "domain": false, "tickSize": -3, "tickColor": "#8c8c8c", "labelPadding": 6, "labelFontSize": 22}},
            "color": {"field": "s", "type": "nominal", "legend": null}
          }
        }
      ]
    },
    {
      "layer": [
        {
          "data": {"name": "frame2"},
          "mark": {"type": "rect", "fill": null, "fillOpacity": 0, "stroke": "#8c8c8c", "strokeWidth": 1.2},
          "encoding": {
            "x": {"field": "x1", "type": "quantitative"},
            "x2": {"field": "x2"},
            "y": {"field": "y1", "type": "quantitative"},
            "y2": {"field": "y2"}
          }
        },
        {
          "data": {"name": "inset2"},
          "mark": {"type": "line", "interpolate": "monotone", "strokeWidth": 2},
          "encoding": {
            "x": {"field": "f", "type": "quantitative",
              "scale": {"domain": [1077, 1366], "range": [288.3, 448.3], "nice": false, "zero": false},
              "axis": {"title": null, "orient": "bottom", "offset": -196.8, "values": [1100, 1200, 1300], "format": "d", "domain": false, "tickSize": -3, "tickColor": "#8c8c8c", "labelPadding": 11, "labelFontSize": 21}},
            "y": {"field": "F", "type": "quantitative",
              "scale": {"domain": [662, 1344], "range": [226.2, 83], "nice": false, "zero": false},
              "axis": {"title": null, "orient": "left", "offset": -288.3, "values": [800, 1000, 1200], "domain": false, "tickSize": -3, "tickColor": "#8c8c8c", "labelPadding": 9, "labelFontSize": 20,
                "labelExpr": "datum.value >= 1000 ? format(datum.value/1000, '.1f') + '×10³' : format(datum.value/100, '.1f') + '×10²'"}},
            "color": {"field": "s", "type": "nominal", "legend": null}
          }
        }
      ]
    }
  ],
  "resolve": {"scale": {"x": "independent", "y": "independent"}, "axis": {"x": "independent", "y": "independent"}}
}
